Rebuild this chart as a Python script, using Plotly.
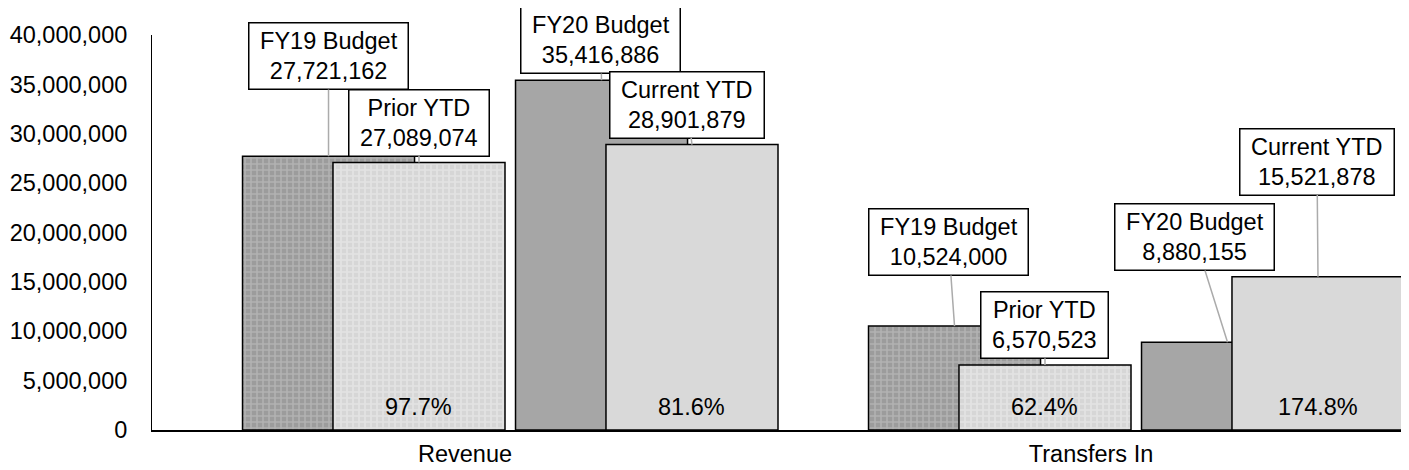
import plotly.graph_objects as go

categories = ["Revenue", "Transfers In"]
fy19_budget = [27721162, 10524000]
prior_ytd = [27089074, 6570523]
fy20_budget = [35416886, 8880155]
current_ytd = [28901879, 15521878]
prior_pct = ["97.7%", "62.4%"]
current_pct = ["81.6%", "174.8%"]
y_ticks = [0, 5000000, 10000000, 15000000, 20000000, 25000000, 30000000, 35000000, 40000000]

FONT = "Liberation Sans, Arial, sans-serif"
FS = 23.5
W = 0.2748
offsets = {"FY19 Budget": -0.3554, "Prior YTD": -0.2109, "FY20 Budget": 0.0807, "Current YTD": 0.2252}

fig = go.Figure()

def add_bar(name, vals, color, pattern=None):
    marker = dict(color=color, line=dict(color="black", width=1.5))
    if pattern:
        marker["pattern"] = pattern
    fig.add_trace(go.Bar(x=categories, y=vals, name=name, width=W, offset=offsets[name],
                         marker=marker, hoverinfo="skip", showlegend=False))

add_bar("FY19 Budget", fy19_budget, "#9c9c9c",
        dict(shape="+", fgcolor="#c8c8c8", bgcolor="#9c9c9c", size=6, solidity=0.45, fillmode="overlay"))
add_bar("Prior YTD", prior_ytd, "#d6d6d6",
        dict(shape="+", fgcolor="#f2f2f2", bgcolor="#d6d6d6", size=6, solidity=0.45, fillmode="overlay"))
add_bar("FY20 Budget", fy20_budget, "#a6a6a6")
add_bar("Current YTD", current_ytd, "#d9d9d9")

annotations = []
series = [("FY19 Budget", fy19_budget), ("Prior YTD", prior_ytd),
          ("FY20 Budget", fy20_budget), ("Current YTD", current_ytd)]
# label box offsets in pixels (ax, ay) per series per category
box_offsets = {
    "FY19 Budget": [(0, -100), (-6, -84)],
    "Prior YTD": [(0, -40), (0, -40)],
    "FY20 Budget": [(-1, -40), (-33, -105)],
    "Current YTD": [(-5, -40), (-1, -115)],
}
NB = "\u00a0"
for name, vals in series:
    for i, v in enumerate(vals):
        xc = i + offsets[name] + W / 2
        ax, ay = box_offsets[name][i]
        annotations.append(dict(
            x=xc, y=v, xref="x", yref="y", text=f"{NB}{name}{NB}<br>{NB}{v:,.0f}{NB}",
            showarrow=True, arrowhead=0, arrowwidth=1.5, arrowcolor="#ababab",
            ax=ax, ay=ay, bgcolor="white", bordercolor="black", borderwidth=1.5,
            borderpad=4, font=dict(family=FONT, size=FS, color="black")))

for name, labels in [("Prior YTD", prior_pct), ("Current YTD", current_pct)]:
    for i, t in enumerate(labels):
        xc = i + offsets[name] + W / 2
        annotations.append(dict(x=xc, y=0, xref="x", yref="y", text=t, showarrow=False,
                                yanchor="bottom", yshift=8,
                                font=dict(family=FONT, size=FS, color="black")))

# page body has an 8px default margin, so the figure is sized to fill the rest of the window
fig.update_layout(
    width=1401, height=462, barmode="overlay",
    margin=dict(l=144, r=5, t=27, b=40, pad=0),
    plot_bgcolor="white", paper_bgcolor="white",
    font=dict(family=FONT, size=FS, color="black"),
    annotations=annotations,
    xaxis=dict(type="category", range=[-0.5, 1.5], showgrid=False, showline=True,
               linecolor="black", linewidth=2, ticks="", zeroline=False, automargin=False,
               ticklabelstandoff=2,
               tickfont=dict(family=FONT, size=FS, color="black")),
    yaxis=dict(range=[0, 40000000], tickvals=y_ticks, tickformat=",d", showgrid=False,
               showline=True, linecolor="black", linewidth=1, ticks="", zeroline=False,
               automargin=False, ticklabelstandoff=19,
               tickfont=dict(family=FONT, size=FS, color="black")),
)

fig.write_html("out.html")
